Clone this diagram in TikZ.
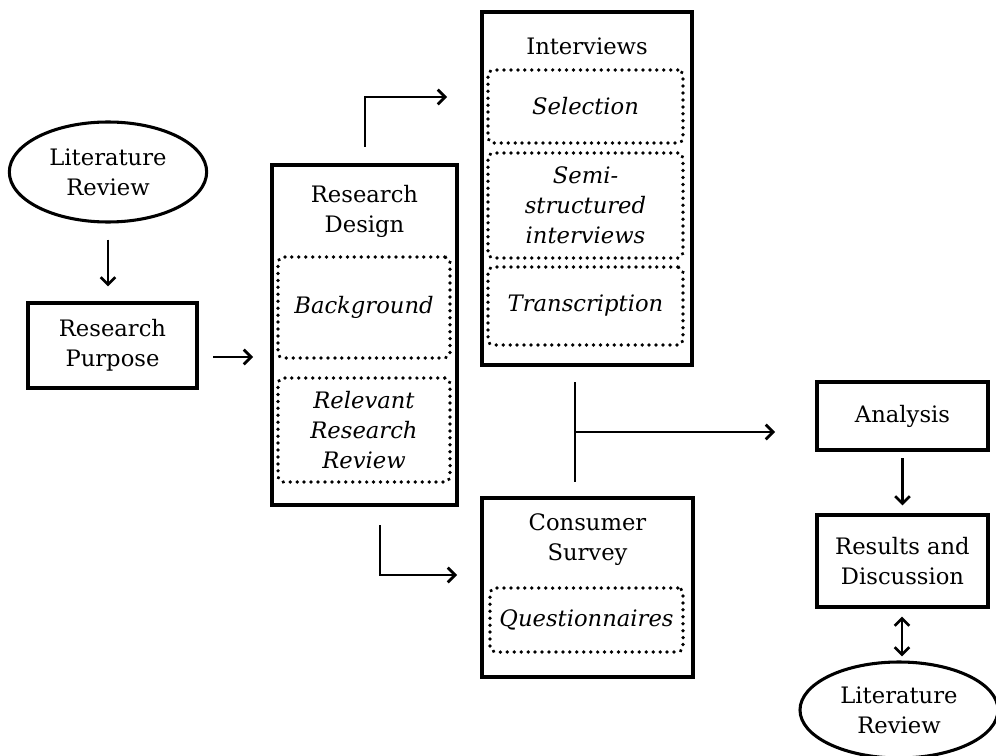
\documentclass[tikz,border=0pt]{standalone}
\usepackage{fontspec}
\setmainfont{DejaVu Serif}
\usetikzlibrary{arrows.meta,shapes.geometric}
\begin{document}
\begin{tikzpicture}[x=0.75pt,y=-0.75pt,
  every node/.style={font=\fontsize{17}{22.5}\selectfont, align=center, inner sep=0pt},
  solidbox/.style={draw, line width=2.3pt, rectangle},
  dotbox/.style={draw, line width=2.8pt, line cap=round, dash pattern=on 0.01pt off 5.2pt, rounded corners=4pt, rectangle, font=\fontsize{17}{22.5}\selectfont\itshape},
  ellbox/.style={draw, line width=2.3pt, ellipse},
  conn/.style={line width=2pt, -{Straight Barb[length=5.5pt,width=11pt,line width=2pt]}},
  plain/.style={line width=2pt}
]
\useasboundingbox (0,0) rectangle (996,756);

% left column
\node[ellbox, minimum width=148pt, minimum height=75pt] (lit1) at (108,172) {Literature\\Review};
\node[solidbox, minimum width=126.75pt, minimum height=63.75pt] (rp) at (112.5,345.5) {Research\\Purpose};

% research design
\node[solidbox, minimum width=138.75pt, minimum height=255pt] (rd) at (364.5,335) {};
\node (rdt) at (364.5,211) {Research\\Design};
\node[dotbox, minimum width=129pt, minimum height=75.75pt] (bg) at (364,307.5) {Background};
\node[dotbox, minimum width=129pt, minimum height=78pt] (rel) at (364,430) {Relevant\\Research\\Review};

% interviews
\node[solidbox, minimum width=157.5pt, minimum height=264.75pt] (iv) at (587,188.5) {};
\node (ivt) at (587,46) {Interviews};
\node[dotbox, minimum width=146.25pt, minimum height=54.75pt] (sel) at (585.5,106.5) {Selection};
\node[dotbox, minimum width=146.25pt, minimum height=78.75pt] (semi) at (585.5,205.5) {Semi-\\structured\\interviews};
\node[dotbox, minimum width=146.25pt, minimum height=58.5pt] (tr) at (585.5,306) {Transcription};

% consumer survey
\node[solidbox, minimum width=158.25pt, minimum height=134.25pt] (cs) at (587.5,587.5) {};
\node (cst) at (587.5,540) {Consumer\\Survey};
\node[dotbox, minimum width=144.75pt, minimum height=48pt] (q) at (586.5,620) {Questionnaires};

% right column
\node[solidbox, minimum width=128.25pt, minimum height=51pt] (an) at (902.5,416) {Analysis};
\node[solidbox, minimum width=128.25pt, minimum height=69pt] (res) at (902.5,561) {Results and\\Discussion};
\node[ellbox, minimum width=148.5pt, minimum height=72pt] (lit2) at (899,710) {Literature\\Review};

% connector coordinates
\coordinate (u0) at (365,147);
\coordinate (u1) at (447,97);
\coordinate (d0) at (380,525);
\coordinate (d1) at (457,575);
\coordinate (jt) at (575,382);
\coordinate (jb) at (575,482);
\coordinate (jm) at (575,432);
\coordinate (je) at (775,432);
\coordinate (p0) at (213,357);
\coordinate (p1) at (253,357);

% connectors
\draw[conn, shorten <=12pt, shorten >=11.25pt] (lit1.south) -- (lit1.south |- rp.north);
\draw[conn] (p0) -- (p1);
\draw[conn] (u0) |- (u1);
\draw[conn] (d0) |- (d1);
\draw[plain] (jt) -- (jb);
\draw[conn] (jm) -- (je);
\draw[conn, shorten <=5pt, shorten >=6pt] (an.south) -- (res.north);
\draw[line width=2pt, {Straight Barb[length=5.5pt,width=11pt,line width=2pt]}-{Straight Barb[length=5.5pt,width=11pt,line width=2pt]}, shorten <=6pt, shorten >=3pt] ([xshift=-0.4pt]res.south) -- ([xshift=-0.4pt]res.south |- lit2.north);
\end{tikzpicture}
\end{document}
